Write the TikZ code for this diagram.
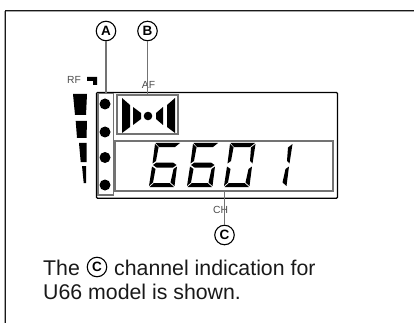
\documentclass[tikz,border=0pt]{standalone}
\usepackage{fontspec}
\setmainfont{Liberation Sans}
\definecolor{lead}{gray}{0.45}
\tikzset{
  frameline/.style={line width=1.1pt,black!90},
  leader/.style={draw=lead,line width=1.5pt},
  callout/.style={circle,draw=black,line width=1.1pt,inner sep=0pt,minimum size=19.5pt,font=\fontsize{13.5}{13.5}\selectfont\bfseries},
  tiny label/.style={font=\fontsize{10.3}{11}\selectfont,text=black!70,inner sep=0pt},
  body/.style={font=\fontsize{21.3}{24}\selectfont,text=black!90,inner sep=0pt,anchor=base west},
  lamp/.style={circle,fill=black,inner sep=0pt,minimum size=11pt},
  hbox/.style={draw=lead,line width=1.5pt}
}
\newcommand{\segA}[2]{\fill[black] (#1+6.5,#2-44) -- (#1+31,#2-44) -- (#1+26,#2-40) -- (#1+10,#2-40) -- cycle;}
\newcommand{\segB}[2]{\fill[black] (#1+31.5,#2-43) -- (#1+28.5,#2-23.5) -- (#1+26,#2-26) -- (#1+27,#2-39.5) -- cycle;}
\newcommand{\segC}[2]{\fill[black] (#1+28,#2-20.5) -- (#1+25.5,#2-1) -- (#1+21.5,#2-4.5) -- (#1+24.5,#2-18) -- cycle;}
\newcommand{\segD}[2]{\fill[black] (#1+0.5,#2) -- (#1+25,#2) -- (#1+20.5,#2-4) -- (#1+5,#2-4) -- cycle;}
\newcommand{\segE}[2]{\fill[black] (#1+3,#2-20.5) -- (#1+0,#2-1) -- (#1+4,#2-4.5) -- (#1+6.5,#2-18) -- cycle;}
\newcommand{\segF}[2]{\fill[black] (#1+6,#2-43) -- (#1+3.5,#2-23.5) -- (#1+7,#2-26) -- (#1+9.5,#2-39.5) -- cycle;}
\newcommand{\segG}[2]{\fill[black] (#1+4,#2-22) -- (#1+7.5,#2-24.5) -- (#1+24,#2-24.5) -- (#1+27.5,#2-22) -- (#1+24,#2-19.5) -- (#1+7.5,#2-19.5) -- cycle;}
\begin{document}
\begin{tikzpicture}[x=1pt,y=-1pt]
\useasboundingbox (0,0) rectangle (414,323);
% outer frame (left and top only)
\draw[line width=1pt,black!35] (4.6,323) -- (4.6,11.6) -- (414,11.6);
\draw[frameline] (5.6,323) -- (5.6,10.4) -- (414,10.4);
% LCD panel
\draw[line width=1.2pt,rounded corners=1pt] (96.5,92.5) rectangle (337.5,198.2);
% RF meter
\fill (73,94) -- (87,94) -- (86,115) -- (75,115) -- cycle;
\fill (75.7,121) -- (87,121) -- (86.5,138) -- (77,138) -- cycle;
\fill (79,143) -- (86.7,143) -- (86.5,162) -- (80.7,162) -- cycle;
\fill (82,166) -- (86.2,166) -- (86,183) -- (83.7,183) -- cycle;
\fill (87,77) -- (97,77) -- (97,85) -- (93,85) -- (93,81) -- (87,81) -- cycle;
\node[tiny label] (rf) at (74,80) {RF};
\node[tiny label] (af) at (148.5,84.5) {AF};
\node[tiny label] (ch) at (220.5,209.5) {CH};
% A box
\node[hbox,minimum width=15.7pt,minimum height=101.5pt,inner sep=0pt] (boxa) at (105.6,144.3) {};
\node[lamp] at (105,104) {};
\node[lamp] at (105,132) {};
\node[lamp] at (105,157.5) {};
\node[lamp] at (105,185) {};
% B box
\node[hbox,minimum width=61pt,minimum height=39pt,inner sep=0pt] (boxb) at (147.5,114.5) {};
\fill (122,98) -- (130,105) -- (130,127) -- (122,133) -- cycle;
\fill (133,107) -- (141,113) -- (141,119) -- (133,125) -- cycle;
\fill (175,98) -- (167,105) -- (167,127) -- (175,133) -- cycle;
\fill (163,107) -- (156,113) -- (156,119) -- (163,125) -- cycle;
\fill (148,116) circle (4.3pt);
% C box
\node[hbox,minimum width=218pt,minimum height=50pt,inner sep=0pt] (boxc) at (224,166) {};
% digits
\segA{149}{187}\segC{149}{187}\segD{149}{187}\segE{149}{187}\segF{149}{187}\segG{149}{187}
\segA{187}{187}\segC{187}{187}\segD{187}{187}\segE{187}{187}\segF{187}{187}\segG{187}{187}
\segA{224}{187}\segB{224}{187}\segC{224}{187}\segD{224}{187}\segE{224}{187}\segF{224}{187}
\segB{261}{187}\segC{261}{187}
% callouts
\node[callout] (A) at (106,31) {A};
\node[callout] (B) at (147.5,31) {B};
\node[callout] (C) at (224.5,235) {C};
\draw[leader] (A) -- (A|-boxa.north);
\draw[leader] (B) -- (B|-boxb.north);
\draw[leader] (C|-boxc.south) -- (C);
% text
\node[body] (l1) at (43,275) {The};
\node[callout] (c2) at (97,267) {C};
\node[body] (l2) at (114,275) {channel indication for};
\node[body] (l3) at (43,299) {U66 model is shown.};
\end{tikzpicture}
\end{document}
